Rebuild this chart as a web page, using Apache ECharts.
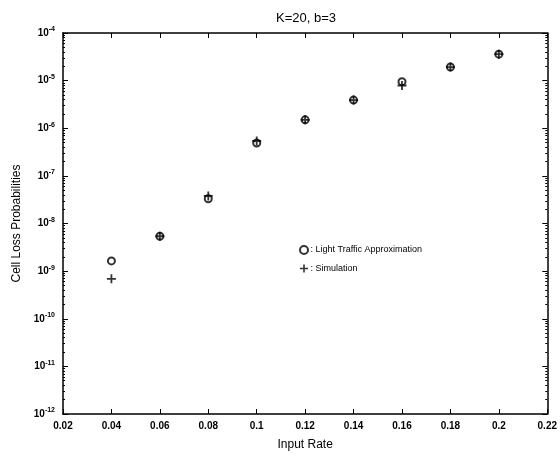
<!DOCTYPE html>
<html><head><meta charset="utf-8">
<script src="https://cdn.jsdelivr.net/npm/echarts@6/dist/echarts.min.js"></script>
<style>html,body{margin:0;padding:0;background:#fff}#c{width:560px;height:456px}</style>
</head><body><div id="c"></div>
<script>
var inputRates = [0.04, 0.06, 0.08, 0.10, 0.12, 0.14, 0.16, 0.18, 0.20];
var lightTraffic = [1.64e-9, 5.4e-9, 3.3e-8, 4.9e-7, 1.5e-6, 3.9e-6, 9.5e-6, 1.93e-5, 3.6e-5];
var simRates = [0.04, 0.06, 0.08, 0.10, 0.12, 0.14, 0.16, 0.18, 0.20];
var simulation = [6.9e-10, 5.4e-9, 3.8e-8, 5.4e-7, 1.5e-6, 3.9e-6, 7.9e-6, 1.93e-5, 3.6e-5];
var titleText = 'K=20, b=3';
var xName = 'Input Rate';
var yName = 'Cell Loss Probabilities';
var seriesNames = ['Light Traffic Approximation', 'Simulation'];

var plusPath = 'path://M4,0h2v4h4v2h-4v4h-2v-4h-4v-2h4z';
var font = 'Liberation Sans, Arial, sans-serif';
function pairs(xs, ys){ return xs.map(function(x,i){ return [x, ys[i]]; }); }

var chart = echarts.init(document.getElementById('c'), null, {renderer:'canvas'});
var axisLineStyle = {lineStyle:{color:'#000', width:1.5}};
chart.setOption({
  animation:false,
  backgroundColor:'#fff',
  title:{text:titleText, left:301, top:7, textAlign:'center',
    textStyle:{fontFamily:font, fontSize:13, fontWeight:'normal', color:'#000'}},
  grid:{left:63, right:12, top:33, bottom:39, containLabel:false},
  legend:{
    orient:'vertical', left:294, top:240, itemGap:9, itemWidth:9, itemHeight:8,
    textStyle:{fontFamily:font, fontSize:9, color:'#000', padding:[0,0,0,-3]},
    formatter:function(n){ return ': ' + n; },
    data:[{name:seriesNames[0], icon:'emptyCircle'}, {name:seriesNames[1], icon:plusPath}]
  },
  xAxis:[{
    type:'value', min:0.02, max:0.22, interval:0.02,
    name:xName, nameLocation:'middle', nameGap:25,
    nameTextStyle:{fontFamily:font, fontSize:12, color:'#000'},
    axisLine:axisLineStyle,
    axisTick:{inside:true, length:5, lineStyle:{color:'#000'}},
    axisLabel:{fontFamily:font, fontSize:10, fontWeight:'bold', color:'#000', margin:7,
      formatter:function(v){ return String(+v.toFixed(2)); }},
    splitLine:{show:false}
  },{
    type:'value', position:'top', min:0.02, max:0.22, interval:0.02,
    axisLine:axisLineStyle,
    axisTick:{inside:true, length:5, lineStyle:{color:'#000'}},
    axisLabel:{show:false}, splitLine:{show:false}
  }],
  yAxis:[{
    type:'log', logBase:10, min:1e-12, max:1e-4,
    name:yName, nameLocation:'middle', nameGap:40, nameRotate:90,
    nameTextStyle:{fontFamily:font, fontSize:12, color:'#000'},
    axisLine:axisLineStyle,
    axisTick:{inside:true, length:5, lineStyle:{color:'#000'}},
    minorTick:{show:true, splitNumber:9, length:2, lineStyle:{color:'#000'}},
    axisLabel:{fontFamily:font, fontSize:10, fontWeight:'bold', color:'#000', margin:8,
      formatter:function(v){ var e = Math.round(Math.log10(v)); return '10{s|' + e + '}'; },
      rich:{s:{fontSize:7, fontWeight:'bold', verticalAlign:'top', padding:[0,0,7,0]}}},
    splitLine:{show:false}
  },{
    type:'log', logBase:10, min:1e-12, max:1e-4, position:'right',
    axisLine:axisLineStyle,
    axisTick:{inside:true, length:5, lineStyle:{color:'#000'}},
    minorTick:{show:true, splitNumber:9, length:2, lineStyle:{color:'#000'}},
    axisLabel:{show:false}, splitLine:{show:false}
  }],
  series:[{
    name:seriesNames[0], type:'scatter', symbol:'emptyCircle', symbolSize:7,
    itemStyle:{color:'#000', borderColor:'#000', borderWidth:1.6},
    data:pairs(inputRates, lightTraffic), z:3
  },{
    name:seriesNames[1], type:'scatter', symbol:plusPath, symbolSize:9,
    itemStyle:{color:'#000'},
    data:pairs(simRates, simulation), z:4
  }]
});
</script></body></html>
